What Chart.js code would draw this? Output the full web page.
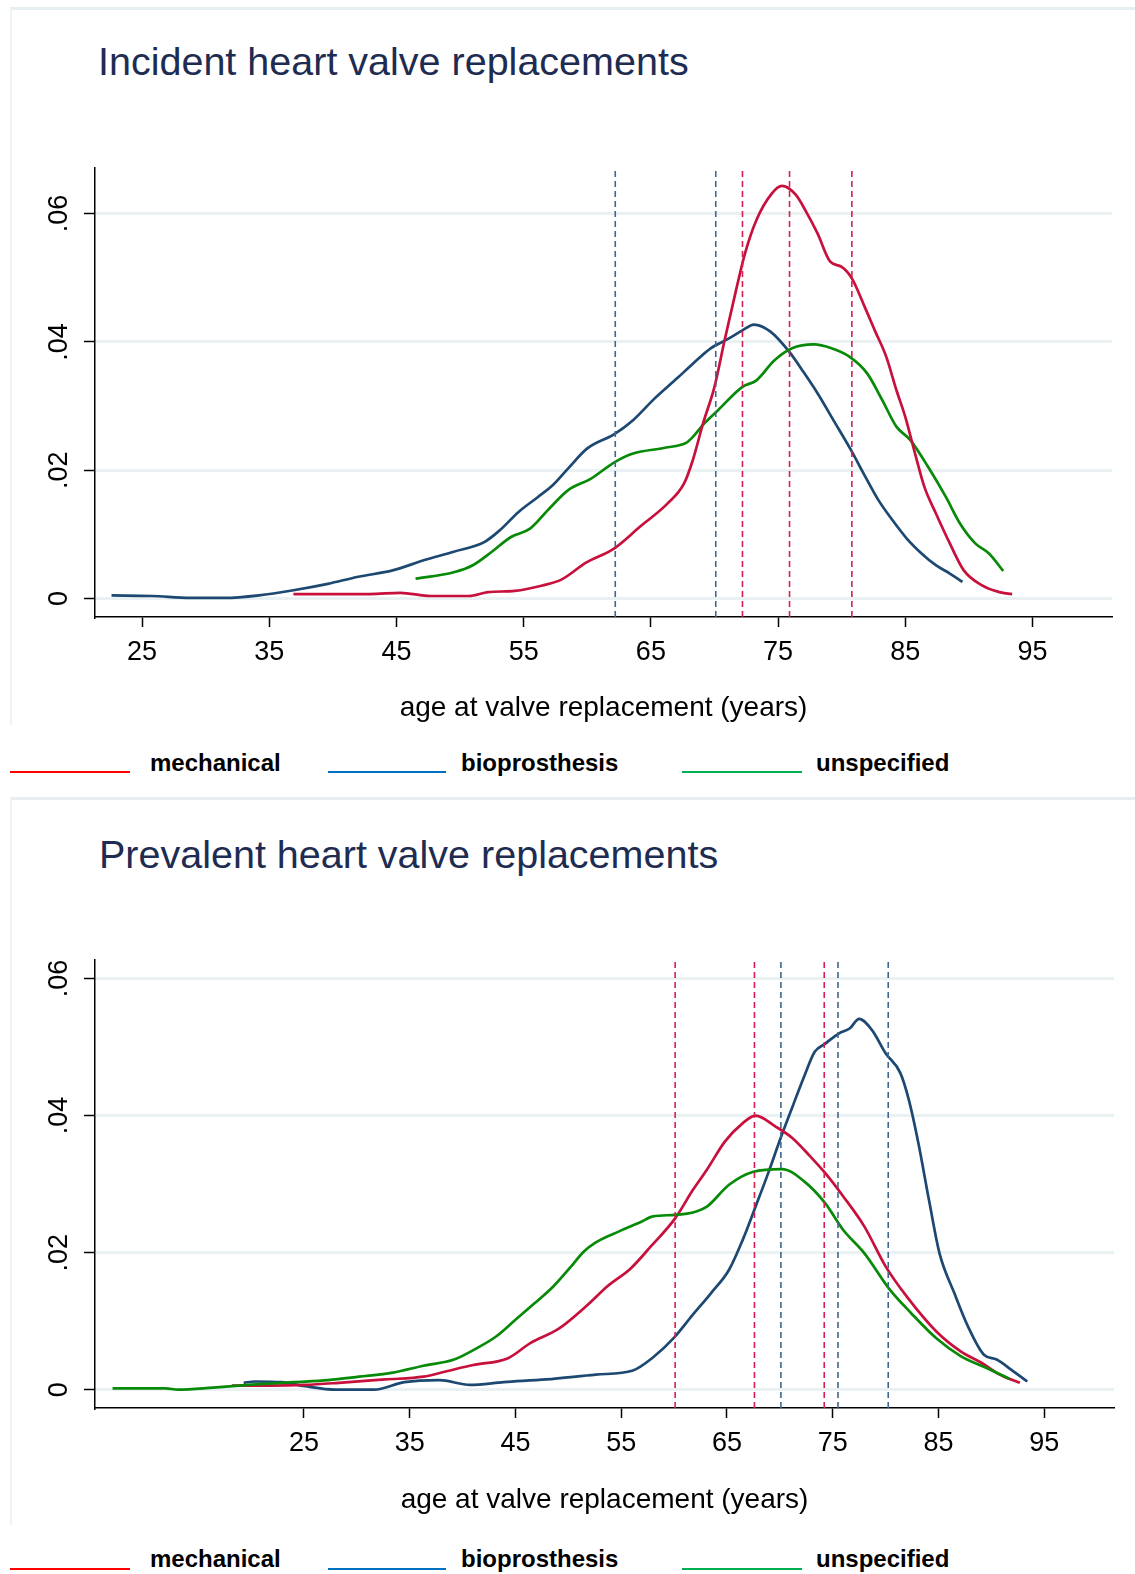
<!DOCTYPE html>
<html>
<head>
<meta charset="utf-8">
<script src="https://cdn.jsdelivr.net/npm/chart.js@4.4.1/dist/chart.umd.min.js"></script>
<style>
  body { margin: 0; width: 1135px; height: 1574px; background: #fff; position: relative; overflow: hidden;
         font-family: "Liberation Sans", Arial, sans-serif; }
  .panel { position: absolute; left: 10px; width: 1125px; border-top: 3px solid #e6eef1; border-left: 2px solid #eef3f5; }
  .title { position: absolute; left: 98px; font-size: 39.5px; line-height: 39px; color: #1e2c52; white-space: nowrap; }
  .box { position: absolute; left: 0; width: 1135px; height: 590px; }
  .leg-line { position: absolute; height: 0; border-top: 2px solid; }
  .leg-text { position: absolute; font-weight: bold; font-size: 24px; line-height: 24px; color: #000; white-space: nowrap; }
</style>
</head>
<body>
<div class="panel" style="top:7px; height:715px;"></div>
<div class="panel" style="top:797px; height:725px;"></div>

<div class="title" style="top:42px;">Incident heart valve replacements</div>
<div class="title" style="top:835px; left:99px;">Prevalent heart valve replacements</div>

<div class="box" style="top:150px;"><canvas id="chartIncident" width="1135" height="590"></canvas></div>
<div class="box" style="top:942px;"><canvas id="chartPrevalent" width="1135" height="590"></canvas></div>

<div id="legendTop"></div>
<div id="legendBottom"></div>

<script>
// ---- eixos ----
const xTicks = [25, 35, 45, 55, 65, 75, 85, 95];
const yTicks = [0, 0.02, 0.04, 0.06];
const yTickLabels = ['0', '.02', '.04', '.06'];
const xTitle = 'age at valve replacement (years)';

// ---- incident (top) ----
const incXRange = [21.3, 101.25];
const incYRange = [-0.00287, 0.0671];

const incBioAges = [22.6, 25.8, 28.8, 31.5, 34.2, 36.9, 39.6, 42.0, 44.7, 47.2, 49.5, 51.9, 53.1, 54.6, 56.1, 57.3, 58.5, 60.0, 62.1, 63.6, 65.3, 67.1, 68.3, 69.7, 71.1, 72.2, 73.1, 74.4, 75.9, 77.0, 78.1, 79.5, 80.8, 81.8, 82.9, 84.0, 85.1, 86.3, 87.4, 88.5, 89.5];
const incBioVals = [.0005, .0004, .0001, .0001, .0005, .0013, .0023, .0034, .0044, .006, .0073, .0088, .0106, .0135, .0158, .0177, .0203, .0234, .0256, .0278, .0312, .0344, .0366, .039, .0405, .0418, .0427, .0416, .0384, .0353, .032, .0273, .0229, .0192, .0153, .0122, .0094, .007, .0052, .0039, .0026];

const incMechAges = [36.9, 39.9, 42.9, 45.3, 47.7, 50.7, 52.2, 54.3, 56.4, 58.0, 59.9, 62.1, 64.2, 66.3, 67.6, 68.3, 69.1, 70.0, 70.8, 71.7, 72.4, 73.3, 74.5, 75.3, 76.4, 77.2, 78.1, 79.1, 80.0, 80.8, 81.8, 82.6, 83.5, 84.3, 85.0, 85.7, 86.5, 87.4, 88.5, 89.6, 91.0, 92.4, 93.4];
const incMechVals = [.0007, .0007, .0007, .0009, .0004, .0004, .001, .0012, .002, .003, .0056, .0078, .0113, .0148, .0179, .0216, .0273, .033, .0403, .0481, .0538, .059, .0631, .0643, .0629, .0603, .0569, .0525, .0517, .0499, .0455, .0418, .0377, .0325, .0283, .0231, .0174, .0133, .0086, .0044, .0021, .001, .0007];

const incUnspAges = [46.5, 49.5, 51.0, 52.5, 54.0, 55.5, 57.0, 58.5, 60.3, 62.1, 63.6, 66.1, 67.8, 68.3, 69.2, 70.3, 72.2, 73.3, 74.7, 76.1, 77.8, 79.2, 80.6, 82.0, 83.2, 84.3, 85.4, 86.8, 88.2, 89.3, 90.5, 91.6, 92.7];
const incUnspVals = [.0031, .0041, .0052, .0073, .0096, .0109, .014, .0169, .0187, .0212, .0226, .0235, .0243, .0252, .0273, .0294, .033, .034, .0371, .039, .0396, .039, .0377, .0351, .0309, .0268, .0247, .0205, .0158, .0117, .0086, .007, .0043];

const incMechQuartiles = [72.2, 75.9, 80.8];
const incBioQuartiles = [62.2, 70.1];

// ---- prevalent (bottom) ----
const prevXRange = [5.24, 101.6];
const prevYRange = [-0.00267, 0.0627];

const prevBioAges = [19.3, 20.4, 22.9, 25.1, 28.0, 31.6, 34.5, 37.8, 40.7, 43.9, 47.9, 52.6, 56.1, 58.0, 60.0, 61.7, 63.5, 65.2, 66.5, 67.7, 68.9, 70.0, 71.2, 72.3, 73.3, 74.3, 75.6, 76.6, 77.5, 78.7, 80.0, 81.4, 82.2, 83.1, 84.1, 85.1, 86.5, 87.8, 89.3, 90.5, 91.9, 93.4];
const prevBioVals = [.001, .0012, .0011, .0005, 0, 0, .0011, .0014, .0007, .0011, .0015, .0022, .0028, .0047, .0076, .0108, .0141, .0175, .0219, .0267, .0316, .0364, .0413, .0457, .0493, .0505, .052, .0527, .0541, .0525, .0491, .0462, .0423, .036, .0277, .0199, .0141, .0092, .0051, .0044, .0029, .0012];

const prevMechAges = [18.2, 21.8, 25.1, 28.3, 32.7, 36.3, 38.5, 41.0, 44.3, 46.4, 49.1, 51.7, 53.7, 55.9, 57.8, 60.1, 61.8, 63.1, 64.8, 66.5, 67.7, 69.6, 71.2, 72.9, 74.3, 76.0, 78.0, 80.0, 82.1, 84.8, 87.1, 89.1, 90.8, 92.7];
const prevMechVals = [.0006, .0006, .0007, .001, .0015, .0019, .0027, .0036, .0046, .0068, .0089, .0122, .0151, .0177, .0209, .025, .0292, .0321, .0362, .0389, .04, .0384, .0367, .034, .0316, .0282, .0238, .018, .0134, .0085, .0056, .0039, .0022, .001];

const prevUnspAges = [6.9, 11.9, 13.1, 16.4, 20.7, 24.0, 27.3, 30.2, 33.4, 36.3, 39.2, 41.4, 43.2, 45.0, 46.8, 48.6, 50.1, 51.5, 52.6, 54.8, 56.9, 58.0, 60.1, 62.1, 63.1, 65.2, 67.5, 70.2, 72.3, 74.3, 76.0, 78.0, 80.4, 82.4, 84.8, 87.1, 89.5, 91.7];
const prevUnspVals = [.0002, .0002, 0, .0003, .0008, .0011, .0014, .0019, .0025, .0035, .0044, .0061, .0078, .0102, .0126, .0151, .0177, .0202, .0215, .0231, .0245, .0253, .0255, .026, .0267, .0299, .0318, .0322, .0304, .0272, .0233, .0199, .0146, .0112, .0075, .0049, .0032, .0016];

const prevMechQuartiles = [60.1, 67.6, 74.2];
const prevBioQuartiles = [70.1, 75.5, 80.25];

// ---- cores ----
const corMech = '#c8103c';
const corBio = '#1c4872';
const corUnsp = '#078a07';
const corMechDash = '#d81e50';
const corBioDash = '#3f668f';
const FONTE = '"Liberation Sans", Arial, sans-serif';

function pares(xs, ys) {
    return xs.map((x, i) => ({ x: x, y: ys[i] }));
}

function curva(xs, ys, cor) {
    return {
        data: pares(xs, ys),
        borderColor: cor,
        borderWidth: 2.7,
        pointRadius: 0,
        cubicInterpolationMode: 'monotone',
        fill: false
    };
}

function tracejada(q, yRange, cor) {
    return {
        data: [{ x: q, y: yRange[0] }, { x: q, y: yRange[1] }],
        borderColor: cor,
        borderWidth: 1.6,
        borderDash: [6, 4],
        pointRadius: 0,
        fill: false
    };
}

// rotulos do eixo y rotacionados (estilo Stata)
const yLabelsPlugin = {
    id: 'yLabelsRot',
    afterDraw(chart) {
        const s = chart.scales.y;
        const ctx = chart.ctx;
        ctx.save();
        ctx.font = '27px ' + FONTE;
        ctx.fillStyle = '#000';
        ctx.textAlign = 'center';
        ctx.textBaseline = 'middle';
        yTicks.forEach((v, i) => {
            ctx.save();
            ctx.translate(59.5, s.getPixelForValue(v));
            ctx.rotate(-Math.PI / 2);
            ctx.fillText(yTickLabels[i], 0, 0);
            ctx.restore();
        });
        ctx.restore();
    }
};

function criarGrafico(id, xRange, yRange, datasets, padRight, axisHeight) {
    return new Chart(document.getElementById(id), {
        type: 'line',
        data: { datasets: datasets },
        options: {
            responsive: false,
            animation: false,
            events: [],
            layout: { padding: { left: 0, right: padRight, top: 18, bottom: 0 } },
            plugins: { legend: { display: false }, title: { display: false }, tooltip: { enabled: false } },
            scales: {
                x: {
                    type: 'linear',
                    min: xRange[0],
                    max: xRange[1],
                    afterBuildTicks: s => { s.ticks = xTicks.map(v => ({ value: v })); },
                    afterFit: s => { s.height = axisHeight; },
                    grid: { drawOnChartArea: false, tickColor: '#000', tickLength: 10, tickWidth: 1.5 },
                    border: { display: true, color: '#000', width: 1.5 },
                    ticks: {
                        color: '#000',
                        font: { family: FONTE, size: 27 },
                        padding: 9,
                        maxRotation: 0,
                        autoSkip: false,
                        callback: v => String(v)
                    },
                    title: {
                        display: true,
                        text: xTitle,
                        color: '#000',
                        font: { family: FONTE, size: 28 },
                        padding: { top: 4, bottom: 15 }
                    }
                },
                y: {
                    type: 'linear',
                    min: yRange[0],
                    max: yRange[1],
                    afterBuildTicks: s => { s.ticks = yTicks.map(v => ({ value: v })); },
                    afterFit: s => { s.width = 95; },
                    grid: { color: '#eaf1f3', lineWidth: 3, tickColor: '#000', tickLength: 11, tickWidth: 1.5 },
                    border: { display: true, color: '#000', width: 1.5 },
                    ticks: { display: false }
                }
            }
        },
        plugins: [yLabelsPlugin]
    });
}

criarGrafico('chartIncident', incXRange, incYRange, [
    ...incMechQuartiles.map(q => tracejada(q, incYRange, corMechDash)),
    ...incBioQuartiles.map(q => tracejada(q, incYRange, corBioDash)),
    curva(incMechAges, incMechVals, corMech),
    curva(incUnspAges, incUnspVals, corUnsp),
    curva(incBioAges, incBioVals, corBio)
], 23, 123);

criarGrafico('chartPrevalent', prevXRange, prevYRange, [
    ...prevMechQuartiles.map(q => tracejada(q, prevYRange, corMechDash)),
    ...prevBioQuartiles.map(q => tracejada(q, prevYRange, corBioDash)),
    curva(prevUnspAges, prevUnspVals, corUnsp),
    curva(prevMechAges, prevMechVals, corMech),
    curva(prevBioAges, prevBioVals, corBio)
], 21, 124);

// legenda abaixo de cada painel
const legendaItens = [
    { nome: 'mechanical', cor: '#ff0000', linhaX: 10, linhaW: 120, textoX: 150 },
    { nome: 'bioprosthesis', cor: '#0070c0', linhaX: 328, linhaW: 118, textoX: 461 },
    { nome: 'unspecified', cor: '#00b050', linhaX: 682, linhaW: 120, textoX: 816 }
];

function montarLegenda(id, topoTexto, topoLinha) {
    const alvo = document.getElementById(id);
    legendaItens.forEach(item => {
        const linha = document.createElement('div');
        linha.className = 'leg-line';
        linha.style.left = item.linhaX + 'px';
        linha.style.width = item.linhaW + 'px';
        linha.style.top = topoLinha + 'px';
        linha.style.borderTopColor = item.cor;
        alvo.appendChild(linha);

        const texto = document.createElement('div');
        texto.className = 'leg-text';
        texto.style.left = item.textoX + 'px';
        texto.style.top = topoTexto + 'px';
        texto.textContent = item.nome;
        alvo.appendChild(texto);
    });
}

montarLegenda('legendTop', 751, 771);
montarLegenda('legendBottom', 1547, 1568);
</script>
</body>
</html>
